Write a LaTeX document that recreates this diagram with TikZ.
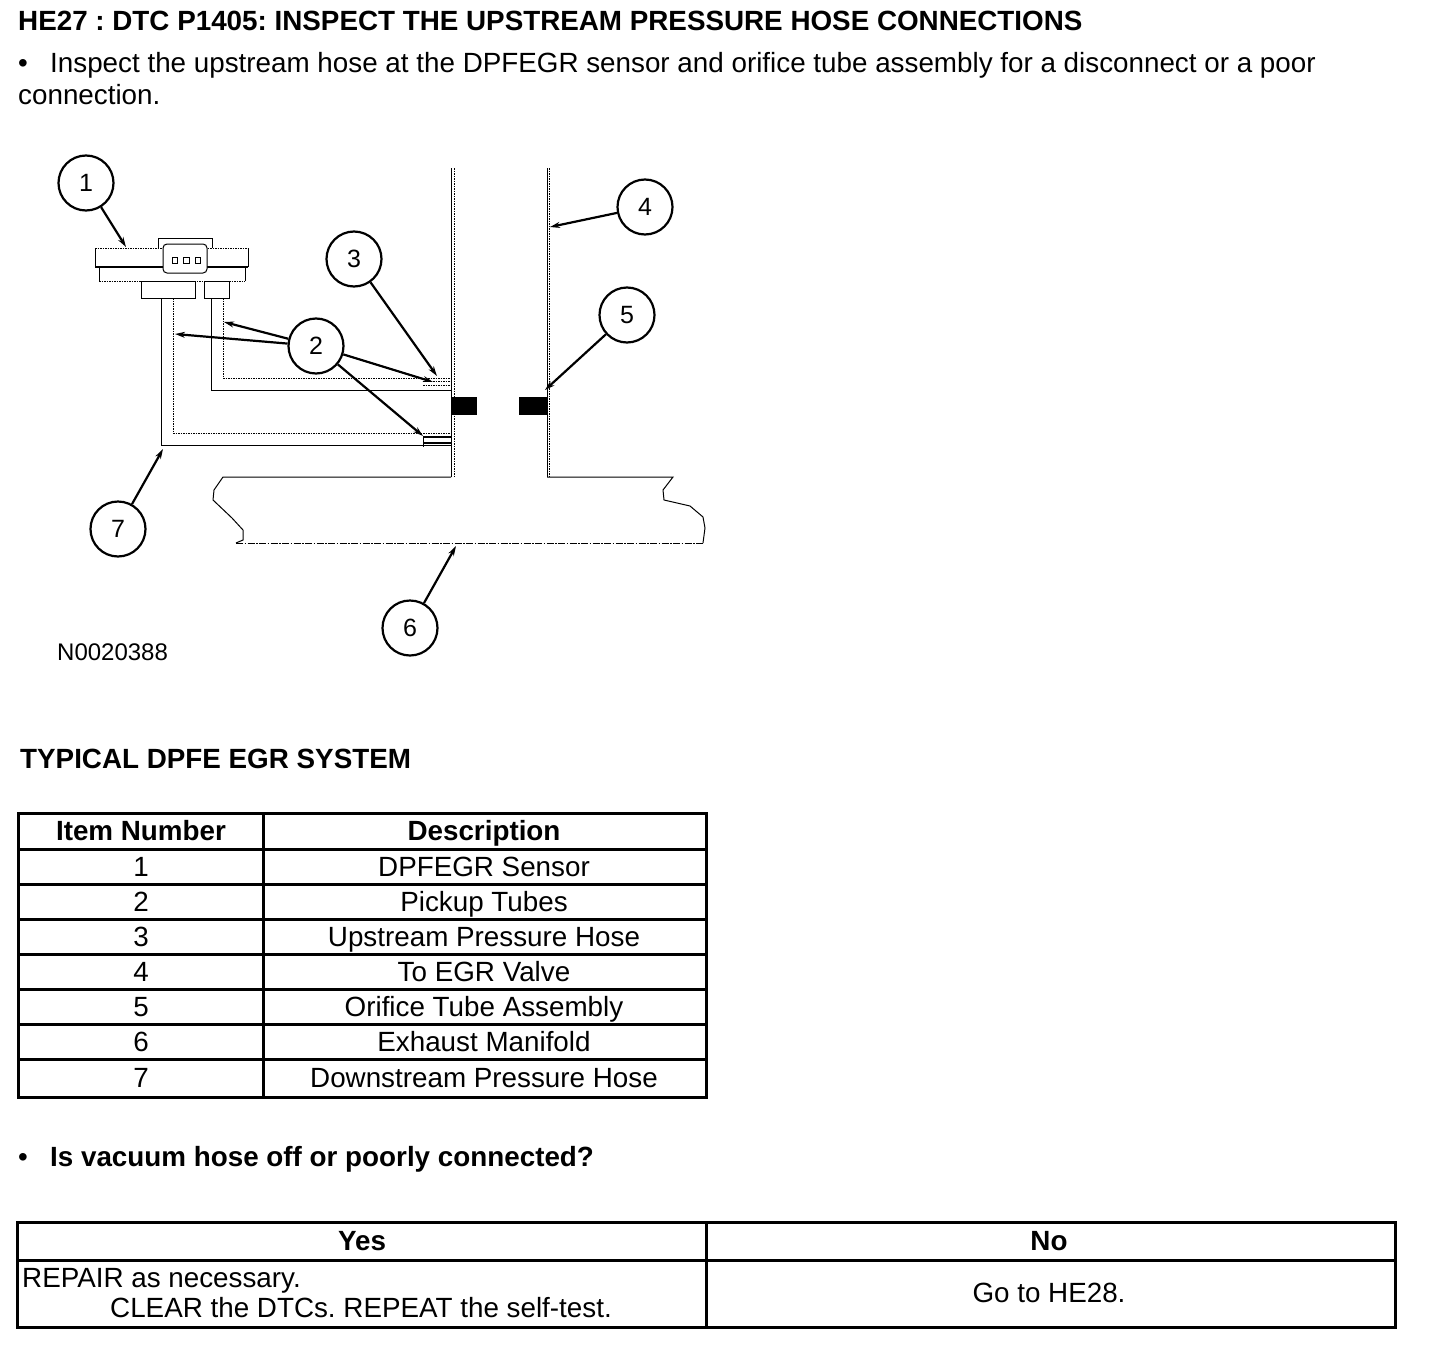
\documentclass[tikz,border=0pt]{standalone}
\usepackage{fontspec}
\setmainfont{Liberation Sans}
\usetikzlibrary{arrows.meta}
\frenchspacing
\tikzset{
  callout/.style={circle, draw, line width=2.2pt, minimum size=55pt, inner sep=0pt, font=\fontsize{25}{28}\selectfont},
  leader/.style={line width=2.2pt, -{Stealth[length=10pt,width=6pt]}},
  part/.style={line width=1pt},
  dotpart/.style={line width=1pt, dash pattern=on 1.5pt off 1pt},
  txt/.style={inner sep=0pt, anchor=base west, font=\frenchspacing\fontsize{27.8}{32}\selectfont},
  btxt/.style={inner sep=0pt, anchor=base west, font=\frenchspacing\bfseries\fontsize{27.8}{32}\selectfont},
  ctxt/.style={inner sep=0pt, anchor=base, font=\frenchspacing\fontsize{27.8}{32}\selectfont},
  cbtxt/.style={inner sep=0pt, anchor=base, font=\frenchspacing\bfseries\fontsize{27.8}{32}\selectfont},
  tbl/.style={line width=3pt},
}
\begin{document}
\begin{tikzpicture}[x=1pt,y=-1pt]
\useasboundingbox[fill=white] (0,0) rectangle (1440,1346);

% ---------- header texts ----------
\node[btxt] (title) at (18,31) {HE27 : DTC P1405: INSPECT THE UPSTREAM PRESSURE HOSE CONNECTIONS};
\node[txt] (bul1) at (18,73) {\textbullet};
\node[txt] (line1) at (50,73) {Inspect the upstream hose at the DPFEGR sensor and orifice tube assembly for a disconnect or a poor};
\node[txt] (line2) at (18,104) {connection.};

% ---------- pipe to EGR valve ----------
\draw[part] (451,168) -- (451,477);
\draw[dotpart] (454,168) -- (454,477);
\draw[part] (547,168) -- (547,477);
\draw[dotpart] (549,168) -- (549,477);

% ---------- exhaust manifold ----------
\draw[part] (451,477) -- (223,477) -- (214,490) -- (213,500) -- (232,518) -- (243,530) -- (243,540) -- (236,543);
\draw[part, dash pattern=on 7pt off 1.5pt on 1.5pt off 1.5pt] (236,543) -- (703,543);
\draw[part] (547,477) -- (673,477) -- (663,490) -- (664,500) -- (690,506) -- (703,517) -- (705,528) -- (703,543);

% ---------- orifice blocks ----------
\fill (451,397) rectangle (477,415);
\fill (519,397) rectangle (547,415);

% ---------- sensor ----------
\draw[dotpart] (95,248) -- (248,248);
\draw[part] (95,248) -- (95,267) (248,248) -- (248,267);
\draw[line width=1.8pt] (95,267) -- (248,267);
\draw[part] (99,267) -- (99,281);
\draw[part] (245,281) -- (245,267);
\draw[dotpart] (99,281) -- (245,281);
\draw[part] (141,281) rectangle (195,298);
\draw[part] (204,281) rectangle (229,298);
\draw[part, fill=white] (158,248) -- (158,238) -- (212,238) -- (212,248);
\draw[part, fill=white, rounded corners=4pt] (163,244) rectangle (207,273);
\draw[part] (172,257) rectangle (177,263);
\draw[part] (183,257) rectangle (189,263);
\draw[part] (195,257) rectangle (200,263);

% ---------- tubes ----------
\draw[part] (161,298) -- (161,445) -- (451,445);
\draw[dotpart] (173,298) -- (173,433) -- (451,433);
\draw[part] (211,298) -- (211,390) -- (451,390);
\draw[dotpart] (223,298) -- (223,378) -- (451,378);
% upstream hose fitting
\draw[dotpart] (423,381) -- (451,381);
\draw[dotpart] (423,385) -- (451,385);
% downstream hose fitting
\draw[line width=1.4pt] (423,437) -- (451,437);
\draw[line width=1.4pt] (423,443) -- (451,443);
\draw[part] (423,437) -- (423,447);

% ---------- callouts ----------
\node[callout] (c1) at (86,183) {1};
\node[callout] (c2) at (316,346) {2};
\node[callout] (c3) at (354,259) {3};
\node[callout] (c4) at (645,207) {4};
\node[callout] (c5) at (627,315) {5};
\node[callout] (c6) at (410,628) {6};
\node[callout] (c7) at (118,529) {7};

\coordinate (t1) at (126,247);
\coordinate (t2a) at (224,322);
\coordinate (t2b) at (175,334);
\coordinate (t2c) at (433,382);
\coordinate (t2d) at (423,436);
\coordinate (t3) at (437,376);
\coordinate (t4) at (550,227);
\coordinate (t5) at (545,390);
\coordinate (t6) at (456,546);
\coordinate (t7) at (163,449);

\draw[leader] (c1) -- (t1);
\draw[leader] (c2) -- (t2a);
\draw[leader] (c2) -- (t2b);
\draw[leader] (c2) -- (t2c);
\draw[leader] (c2) -- (t2d);
\draw[leader] (c3) -- (t3);
\draw[leader] (c4) -- (t4);
\draw[leader] (c5) -- (t5);
\draw[leader] (c6) -- (t6);
\draw[leader] (c7) -- (t7);

\node[txt, font=\fontsize{24}{28}\selectfont] (fig) at (57,660) {N0020388};

% ---------- item table ----------
\node[btxt] (sys) at (20,768) {TYPICAL DPFE EGR SYSTEM};
\draw[tbl] (18,813) rectangle (706,1097);
\draw[tbl] (263,813) -- (263,1097);
\foreach \yy in {849,884,919,954,989,1024,1059} \draw[tbl] (18,\yy) -- (706,\yy);

\node[cbtxt] (h1) at (141,840) {Item Number};
\node[cbtxt] (h2) at (484,840) {Description};
\node[ctxt] (n1) at (141,876) {1};
\node[ctxt] (d1) at (484,876) {DPFEGR Sensor};
\node[ctxt] (n2) at (141,911) {2};
\node[ctxt] (d2) at (484,911) {Pickup Tubes};
\node[ctxt] (n3) at (141,946) {3};
\node[ctxt] (d3) at (484,946) {Upstream Pressure Hose};
\node[ctxt] (n4) at (141,981) {4};
\node[ctxt] (d4) at (484,981) {To EGR Valve};
\node[ctxt] (n5) at (141,1016) {5};
\node[ctxt] (d5) at (484,1016) {Orifice Tube Assembly};
\node[ctxt] (n6) at (141,1051) {6};
\node[ctxt] (d6) at (484,1051) {Exhaust Manifold};
\node[ctxt] (n7) at (141,1087) {7};
\node[ctxt] (d7) at (484,1087) {Downstream Pressure Hose};

% ---------- question ----------
\node[txt] (bul2) at (18,1166) {\textbullet};
\node[btxt] (q) at (50,1166) {Is vacuum hose off or poorly connected?};

% ---------- yes/no table ----------
\draw[tbl] (17,1222) rectangle (1395,1327);
\draw[tbl] (706,1222) -- (706,1327);
\draw[tbl] (17,1260) -- (1395,1260);
\node[cbtxt] (yes) at (362,1250) {Yes};
\node[cbtxt] (no) at (1049,1250) {No};
\node[txt] (r1) at (22,1287) {REPAIR as necessary.};
\node[txt] (r2) at (110,1317) {CLEAR the DTCs. REPEAT the self-test.};
\node[ctxt] (go) at (1049,1302) {Go to HE28.};
\end{tikzpicture}
\end{document}
